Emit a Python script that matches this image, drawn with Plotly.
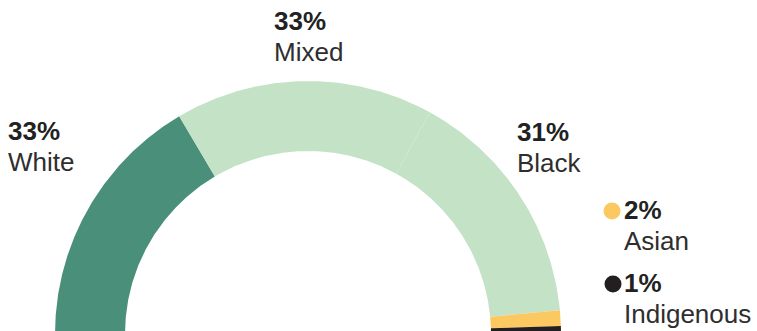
import numpy as np
import plotly.graph_objects as go

# Population shares by group, drawn as a half ring from left to right
groups = ["White", "Mixed", "Black", "Asian", "Indigenous"]
shares = [33, 33, 31, 2, 1]
colors = ["#4a8f79", "#c4e3c6", "#c4e3c6", "#fcc862", "#231f20"]

W, H = 757, 331
CX, CY = 308, 334          # ring centre in pixels (sits just under the bottom edge)
R_OUT, R_IN = 253, 183

fig = go.Figure()

total = sum(shares)
start = 180.0
for name, share, col in zip(groups, shares, colors):
    end = start - 180.0 * share / total
    t = np.radians(np.linspace(start, end, 240))
    xs = np.concatenate([R_OUT * np.cos(t), R_IN * np.cos(t[::-1])])
    ys = np.concatenate([R_OUT * np.sin(t), R_IN * np.sin(t[::-1])])
    fig.add_trace(go.Scatter(
        x=xs, y=ys, mode="lines", fill="toself", fillcolor=col,
        line=dict(width=0, color=col), name=name,
        hoverinfo="text", text=f"{name}: {share}%", showlegend=False,
    ))
    start = end

# Label anchors (left edge, vertical centre of the value line) in pixels
label_x = [6, 272, 515, 622, 622]
label_y = [131, 21, 132, 210, 283]
LINE_GAP = 31
FONT = "Liberation Sans, Arial, Helvetica, sans-serif"
TEXT = "#222222"

annotations = []
for name, share, lx, ly in zip(groups, shares, label_x, label_y):
    annotations.append(dict(
        x=lx / W, y=1 - ly / H, xref="paper", yref="paper",
        xanchor="left", yanchor="middle", showarrow=False,
        text=f"<b>{share}%</b>", font=dict(family=FONT, size=26, color=TEXT),
    ))
    annotations.append(dict(
        x=lx / W, y=1 - (ly + LINE_GAP) / H, xref="paper", yref="paper",
        xanchor="left", yanchor="middle", showarrow=False,
        text=name, font=dict(family=FONT, size=26, color="#2e2e2e"),
    ))

# Colour keys for the two small groups
key_groups = ["Asian", "Indigenous"]
key_px = [612, 613]
key_py = [211, 284]
key_cols = [colors[groups.index(g)] for g in key_groups]
fig.add_trace(go.Scatter(
    x=[px - CX for px in key_px], y=[CY - py for py in key_py],
    mode="markers", marker=dict(size=17, color=key_cols, line=dict(width=0)),
    hoverinfo="skip", showlegend=False,
))

fig.update_layout(
    width=W, height=H, margin=dict(l=0, r=0, t=0, b=0),
    paper_bgcolor="white", plot_bgcolor="white",
    xaxis=dict(range=[-CX, W - CX], visible=False, fixedrange=True),
    yaxis=dict(range=[CY - H, CY], visible=False, fixedrange=True),
    annotations=annotations, showlegend=False,
)

fig.write_html("out.html")
